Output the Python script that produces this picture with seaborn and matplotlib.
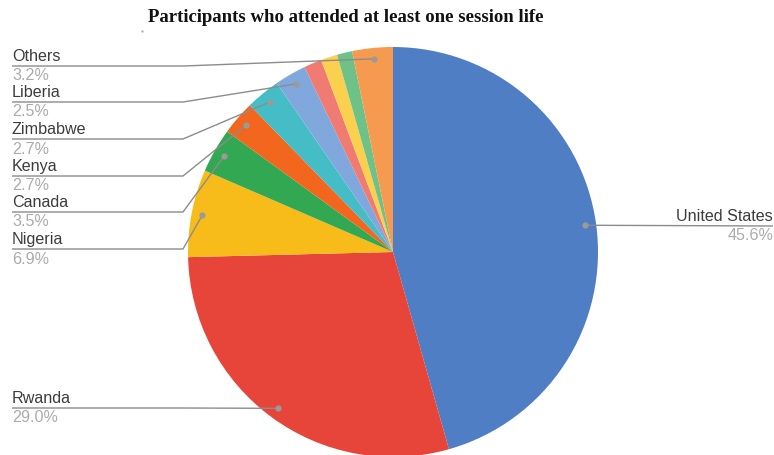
import numpy as np
import matplotlib
matplotlib.use("Agg")
import matplotlib.pyplot as plt
import seaborn as sns

# ---- data ----
countries = ["United States", "Rwanda", "Nigeria", "Canada", "Kenya", "Zimbabwe",
             "Liberia", "Small A", "Small B", "Small C", "Others"]
shares = [45.6, 29.0, 6.9, 3.5, 2.7, 2.7, 2.5, 1.4, 1.3, 1.2, 3.2]
shown = [True, True, True, True, True, True, True, False, False, False, True]
colors = ["#4f7ec4", "#e8453a", "#f7bb1a", "#33a852", "#f3661e", "#45bdc6",
          "#80a8dc", "#ef7b72", "#fcd04f", "#6fc287", "#f59a4f"]
title = "Participants who attended at least one session life"

sns.set_theme(style="white")
plt.rcParams['font.family'] = ['Liberation Sans', 'DejaVu Sans']

W, H = 774, 455
fig = plt.figure(figsize=(W / 100, H / 100), dpi=100)
ax = fig.add_axes([0, 0, 1, 1])

def Y(ypx):
    return H - ypx

cx, cy, R = 393, Y(252), 205
wedges, _ = ax.pie(shares, colors=colors, startangle=90, counterclock=False,
                   center=(cx, cy), radius=R,
                   wedgeprops=dict(linewidth=0))
ax.set_xlim(0, W)
ax.set_ylim(0, H)
ax.set_aspect('equal')
ax.axis('off')

# label line rows (pixel y of leader line) for the shown labels
label_rows = {"Others": 66, "Liberia": 102, "Zimbabwe": 139, "Kenya": 176,
              "Canada": 212, "Nigeria": 249, "Rwanda": 408, "United States": 226}

line_col = "#8c8c8c"
name_col = "#3c3c3c"
pct_col = "#ababab"
fs = 11.6

for w, name, val, sh in zip(wedges, countries, shares, shown):
    if not sh:
        continue
    mid = np.deg2rad((w.theta1 + w.theta2) / 2)
    dx = cx + 0.947 * R * np.cos(mid)
    dy = cy + 0.947 * R * np.sin(mid)
    ly = Y(label_rows[name])
    ax.plot([dx], [dy], 'o', color="#9a9a9a", ms=4.5, mec='none', zorder=5)
    if dx > cx:
        ax.plot([dx, W - 1], [dy, ly], color=line_col, lw=1.0, zorder=4,
                solid_capstyle='butt')
        ax.text(W - 1, ly + 2, name, ha='right', va='bottom', fontsize=fs, color=name_col)
        ax.text(W - 1, ly - 2.5, f"{val:.1f}%", ha='right', va='top', fontsize=fs, color=pct_col)
    else:
        ax.plot([12, 183, dx], [ly, ly, dy], color=line_col, lw=1.0, zorder=4,
                solid_capstyle='butt')
        ax.text(12, ly + 2, name, ha='left', va='bottom', fontsize=fs, color=name_col)
        ax.text(12, ly - 2.5, f"{val:.1f}%", ha='left', va='top', fontsize=fs, color=pct_col)

ax.text(346, Y(18), title, ha='center', va='center', fontsize=13.5, fontweight='bold',
        family=['Liberation Serif', 'DejaVu Serif'], color="#111111")
ax.plot([142], [Y(31)], 's', color="#aaaaaa", ms=1.5, mec='none')

fig.savefig("out.png", dpi=100, facecolor="white")
